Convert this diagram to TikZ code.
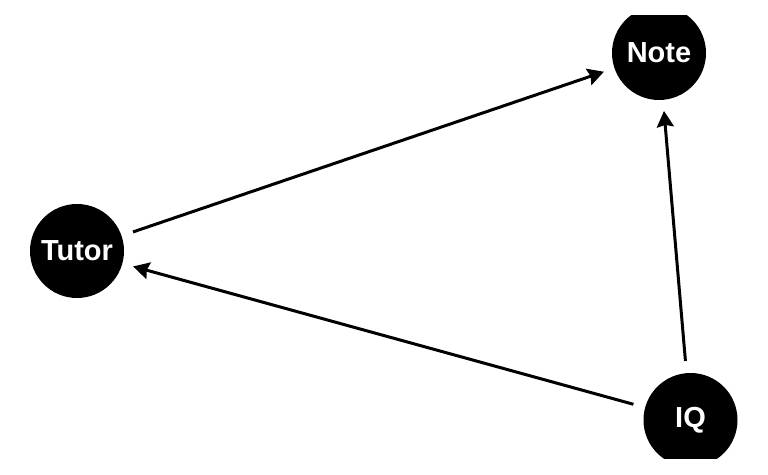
\documentclass[tikz,border=0pt]{standalone}
\usepackage{fontspec}
\setmainfont{Liberation Sans}
\usetikzlibrary{arrows.meta}
\begin{document}
\begin{tikzpicture}[x=1pt,y=1pt,
  vert/.style={circle,fill=black,minimum size=94pt,inner sep=0pt,text=white,font=\fontsize{29}{32}\selectfont\bfseries},
  link/.style={line width=3pt,-{Stealth[length=16pt,width=17pt,inset=2pt]},shorten >=11pt,shorten <=12pt}]
\useasboundingbox (0,0) rectangle (768,474);
\begin{scope}
\clip (0,16) rectangle (768,458);
\node[vert] (note) at (659,421) {\raisebox{-1pt}{Note}};
\node[vert] (tutor) at (77,223) {\raisebox{-1pt}{Tutor}};
\node[vert] (iq) at (690.5,54) {\raisebox{-1pt}{IQ}};
\draw[link] (tutor) -- (note);
\draw[link] (iq) -- (tutor);
\draw[link] (iq) -- (note);
\end{scope}
\end{tikzpicture}
\end{document}
